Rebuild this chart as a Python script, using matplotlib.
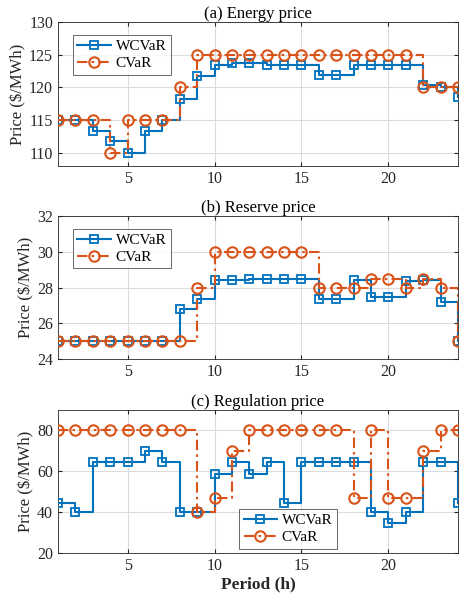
import matplotlib
matplotlib.use("Agg")
import matplotlib.pyplot as plt
import numpy as np

hours = list(range(1, 25))

energy_wcvar = [115, 115, 113.4, 111.8, 110, 113.4, 115, 118.3, 121.8, 123.4, 123.8, 123.8,
                123.4, 123.4, 123.4, 121.9, 121.9, 123.4, 123.4, 123.4, 123.5, 120.3, 120, 118.5]
energy_cvar = [115, 115, 115, 110, 115, 115, 115, 120, 125, 125, 125, 125,
               125, 125, 125, 125, 125, 125, 125, 125, 125, 120, 120, 120]

reserve_wcvar = [25, 25, 25, 25, 25, 25, 25, 26.8, 27.35, 28.4, 28.4, 28.5,
                 28.5, 28.5, 28.5, 27.35, 27.35, 28.4, 27.45, 27.45, 28.35, 28.4, 27.2, 25]
reserve_cvar = [25, 25, 25, 25, 25, 25, 25, 25, 28, 30, 30, 30,
                30, 30, 30, 28, 28, 28, 28.5, 28.5, 28, 28.5, 28, 25]

reg_wcvar = [44.3, 40, 64.5, 64.5, 64.5, 69.7, 64.5, 40, 40, 58.5, 64.5, 58.5,
             64.5, 44.3, 64.5, 64.5, 64.5, 64.5, 40, 34.7, 40, 64.5, 64.5, 44.5]
reg_cvar = [80, 80, 80, 80, 80, 80, 80, 80, 40, 47, 70, 80,
            80, 80, 80, 80, 80, 47, 80, 47, 47, 70, 80, 80]

titles = ["(a) Energy price", "(b) Reserve price", "(c) Regulation price"]
ylims = [(108, 130), (24, 32), (20, 90)]
yticks = [[110, 115, 120, 125, 130], [24, 26, 28, 30, 32], [20, 40, 60, 80]]
series = [(energy_wcvar, energy_cvar), (reserve_wcvar, reserve_cvar), (reg_wcvar, reg_cvar)]
xticks = [5, 10, 15, 20]

blue = "#0072BD"
orange = "#D95319"
tick_col = "#262626"

plt.rcParams['font.family'] = ['Liberation Serif', 'DejaVu Serif']
plt.rcParams['mathtext.fontset'] = 'stix'

fig = plt.figure(figsize=(4.59, 6.05), dpi=100)
W, H = 459, 605
boxes = [(22, 166), (216, 359), (410, 553)]
left, right = 58, 458
legend_locs = ["upper left", "upper left", "lower center"]
legend_anchor = [(0.037, 0.91), (0.037, 0.91), (0.575, 0.03)]

for i, (top, bot) in enumerate(boxes):
    ax = fig.add_axes([left / W, 1 - bot / H, (right - left) / W, (bot - top) / H])
    w, c = series[i]
    ax.step(hours, w, where="post", color=blue, lw=1.5, marker="s", ms=6,
            mfc="none", mew=1.3, label="WCVaR", zorder=3)
    ax.step(hours, c, where="post", color=orange, lw=1.5, ls=(0, (5, 2, 1.2, 2)), marker="o", ms=7.5,
            mfc="none", mew=1.5, label="CVaR", zorder=3)
    ax.set_xlim(1, 24)
    ax.set_ylim(*ylims[i])
    ax.set_xticks(xticks)
    ax.set_yticks(yticks[i])
    ax.grid(True, color="#dcdcdc", lw=0.8)
    ax.set_axisbelow(True)
    ax.tick_params(direction="in", colors=tick_col, labelsize=11.5, length=3,
                   top=True, right=True, labelcolor=tick_col)
    for s in ax.spines.values():
        s.set_color("#262626")
        s.set_linewidth(0.6)
    ax.set_title(titles[i], fontsize=12, color="black", pad=3)
    ax.set_ylabel("Price ($/MWh)", fontsize=12, color=tick_col, labelpad=2)
    leg = ax.legend(loc=legend_locs[i], bbox_to_anchor=legend_anchor[i], fontsize=11,
                    frameon=True, fancybox=False, edgecolor="#262626", handlelength=2.2,
                    borderpad=0.3, labelspacing=0.2, handletextpad=0.3, borderaxespad=0.0)
    leg.get_frame().set_linewidth(0.6)
    if i == 2:
        ax.set_xlabel("Period (h)", fontsize=12.5, fontweight="bold", color=tick_col, labelpad=2)

fig.savefig("out.png", dpi=100)
